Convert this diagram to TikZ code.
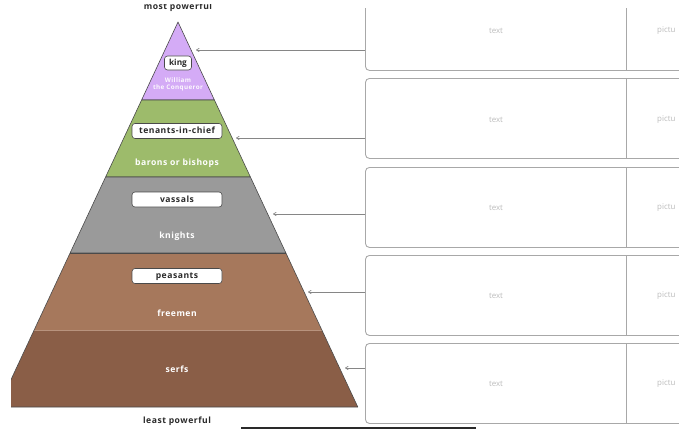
\documentclass[tikz,border=0pt]{standalone}
\usepackage{fontspec}
\setmainfont{Open Sans}
\newfontfamily\lblfont[LetterSpace=6]{Open Sans}
\usetikzlibrary{arrows.meta}
\definecolor{kingc}{HTML}{D4ABF6}
\definecolor{tenc}{HTML}{9DBB6B}
\definecolor{vasc}{HTML}{9A9A9A}
\definecolor{peac}{HTML}{A6785C}
\definecolor{serc}{HTML}{8A5E47}
\definecolor{edgec}{HTML}{4A4A4A}
\definecolor{boxc}{HTML}{A8A8A8}
\definecolor{hintc}{HTML}{BBBBBB}
\definecolor{darkt}{HTML}{2A2A2A}
\begin{document}
\begin{tikzpicture}[x=1pt,y=-1pt,
  layer/.style={draw=edgec,line width=0.6pt,line join=round},
  lbl/.style={draw=edgec,fill=white,rounded corners=3pt,line width=0.6pt,
    font=\lblfont\bfseries\fontsize{8.6}{10}\selectfont,text=darkt,
    minimum width=90pt,minimum height=15pt,inner sep=0pt,
    text height=6.2pt,text depth=1.2pt},
  wtxt/.style={font=\lblfont\bfseries\fontsize{8.6}{10}\selectfont,text=white},
  rowbox/.style={draw=boxc,line width=0.9pt,rounded corners=4pt,
    minimum width=335pt,minimum height=80pt,inner sep=0pt},
  hint/.style={font=\fontsize{7.9}{9}\selectfont,text=hintc},
  arr/.style={draw=boxc!80!black,line width=0.7pt,-{To[length=3.5pt,width=4pt]}},
  ttl/.style={font=\lblfont\bfseries\fontsize{8.6}{10}\selectfont,text=darkt}]
\useasboundingbox (0,0) rectangle (679,428);

% pyramid
\begin{scope}
\clip (11,0) rectangle (679,428);
\filldraw[layer,fill=kingc] (178,22) -- (214.4,100) -- (141.6,100) -- cycle;
\filldraw[layer,fill=tenc] (141.6,100) -- (214.4,100) -- (250.4,177) -- (105.6,177) -- cycle;
\filldraw[layer,fill=vasc] (105.6,177) -- (250.4,177) -- (285.9,253) -- (70.1,253) -- cycle;
\fill[peac] (70.1,253) -- (285.9,253) -- (321.8,330) -- (34.2,330) -- cycle;
\fill[serc] (34.2,330) -- (321.8,330) -- (357.8,407) -- (-1.8,407) -- cycle;
\draw[peac!80!white,line width=0.6pt] (34.2,330) -- (321.8,330);
\draw[layer] (70.1,253) -- (-1.8,407) -- (357.8,407) -- (285.9,253);
\draw[layer] (70.1,253) -- (285.9,253);
\end{scope}

\node[lbl,minimum width=27pt,minimum height=14pt,font=\bfseries\fontsize{8.3}{10}\selectfont] (king) at (178,63) {king};
\node[font=\lblfont\bfseries\fontsize{6.3}{7.4}\selectfont,text=white!92!kingc,align=center] (will) at (178,84.5) {William\\the Conqueror};
\node[lbl] (ten) at (177,131) {tenants-in-chief};
\node[wtxt] (bar) at (177,163) {barons or bishops};
\node[lbl] (vas) at (177,199.5) {vassals};
\node[wtxt] (kni) at (177,236) {knights};
\node[lbl] (pea) at (177,276) {peasants};
\node[wtxt] (fre) at (177,313) {freemen};
\node[wtxt] (ser) at (177,369) {serfs};

\begin{scope}
\clip (0,4.5) rectangle (679,428);
\node[ttl] (most) at (178,7) {most powerful};
\end{scope}
\node[ttl] (least) at (177,421) {least powerful};

% right boxes
\begin{scope}
\clip (0,9) rectangle (679,428);
\node[rowbox,anchor=north west] (b1) at (365,-10) {};
\node[rowbox,anchor=north west] (b2) at (365,78) {};
\node[rowbox,anchor=north west] (b3) at (365,167) {};
\node[rowbox,anchor=north west] (b4) at (365,255) {};
\node[rowbox,anchor=north west] (b5) at (365,343) {};
\foreach \i in {1,...,5}{
  \draw[draw=boxc,line width=0.9pt] (626,0 |- b\i.north) -- (626,0 |- b\i.south);
}
\end{scope}

\foreach \i/\y in {1/31,2/120,3/208,4/296,5/384}{
  \node[hint] (tx\i) at (496,\y) {text};
  \node[hint,anchor=west,inner sep=0pt] (pc\i) at (657,\y) {pictu};
}

% arrows
\coordinate (t1) at (196,50);
\coordinate (t2) at (236,138);
\coordinate (t3) at (273,214);
\coordinate (t4) at (308,292);
\coordinate (t5) at (345,368);
\foreach \i in {1,...,5}{
  \draw[arr] (b\i.west |- t\i) -- (t\i);
}

% bottom dark line
\draw[darkt,line width=2pt] (241,427.5) coordinate (bl1) -- (476,427.5) coordinate (bl2);
\end{tikzpicture}
\end{document}
